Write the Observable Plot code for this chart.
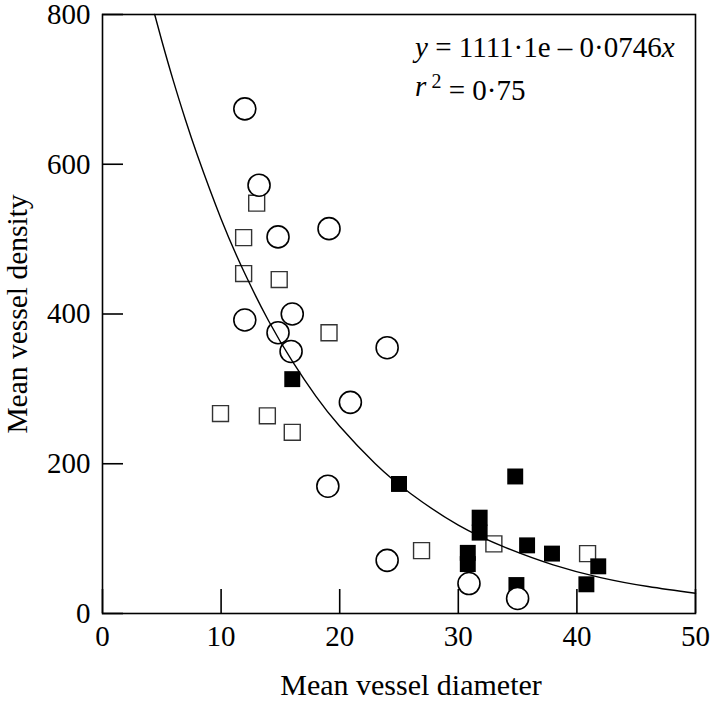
<!DOCTYPE html>
<html><head><meta charset="utf-8">
<script src="https://cdn.jsdelivr.net/npm/d3@7"></script>
<script src="https://cdn.jsdelivr.net/npm/@observablehq/plot@0.6"></script>
<style>body{margin:0;background:#fff}</style>
</head><body><div id="chart"></div>
<script>
// Open circles
const circlesX = [12, 13.2, 14.8, 19.1, 12, 16, 14.8, 15.9, 20.9, 24, 19, 24, 30.9, 35];
const circlesY = [674, 572, 503, 514, 392, 400, 375, 350, 282, 355, 170, 71, 40, 20];
// Open squares
const openSqX = [13, 11.9, 11.9, 14.9, 19.1, 9.95, 13.9, 16, 26.9, 33, 40.9];
const openSqY = [548, 502, 454, 446, 375, 267, 264, 242, 84, 93, 80];
// Filled squares
const filledSqX = [16, 25, 34.8, 31.8, 31.8, 30.8, 30.8, 35.8, 37.9, 41.8, 40.8, 34.9];
const filledSqY = [313, 173, 183, 128, 108, 81, 66, 91, 80, 63, 39, 38];
// Fitted curve
const fitX = [4.4, 5, 6, 7, 8, 10, 12, 14, 16, 18, 20, 23, 26, 30, 34, 38, 42, 46, 50];
const fitY = [800, 765, 710, 659, 612, 527, 454, 391, 337, 290, 250, 200, 160, 118, 88, 65, 48, 36, 27];
// Axes
const xTicks = [0, 10, 20, 30, 40, 50];
const yTicks = [0, 200, 400, 600, 800];
const xTitle = "Mean vessel diameter";
const yTitle = "Mean vessel density";
// Annotation
const eqAnchorX = 26.4;
const eqLine1Y = 742;
const eqLine2Y = 690;

const circles = circlesX.map((x, i) => ({x, y: circlesY[i]}));
const openSq = openSqX.map((x, i) => ({x, y: openSqY[i]}));
const filledSq = filledSqX.map((x, i) => ({x, y: filledSqY[i]}));
const fit = fitX.map((x, i) => ({x, y: fitY[i]}));

const W = 720, H = 702, mL = 102, mR = 25, mT = 14, mB = 89;
const frameW = W - mL - mR, frameH = H - mT - mB;

const plot = Plot.plot({
  width: W, height: H,
  marginLeft: mL, marginRight: mR, marginTop: mT, marginBottom: mB,
  style: {fontFamily: "'Liberation Serif', 'Times New Roman', serif", fontSize: "29px", color: "#000", background: "#fff"},
  x: {domain: [0, 50]},
  y: {domain: [0, 800]},
  marks: [
    Plot.axisX({ticks: xTicks, tickSize: 0, tickPadding: 12, label: null}),
    Plot.axisY({ticks: yTicks, tickSize: 0, tickPadding: 12, label: null}),
    Plot.tickX(xTicks, {x: d => d, insetTop: frameH - 24, stroke: "black", strokeWidth: 1.6}),
    Plot.tickY(yTicks, {y: d => d, insetRight: frameW - 21, stroke: "black", strokeWidth: 1.6}),
    Plot.text([xTitle], {text: d => d, frameAnchor: "bottom", dx: 12, dy: 81, lineAnchor: "bottom", textAnchor: "middle", fontSize: 30}),
    Plot.text([yTitle], {text: d => d, frameAnchor: "left", dx: -76, rotate: -90, lineAnchor: "bottom", textAnchor: "middle", fontSize: 29.5}),
    Plot.dot(openSq, {x: "x", y: "y", symbol: "square", r: 9, fill: "white", stroke: "#333", strokeWidth: 1.4}),
    Plot.dot(filledSq, {x: "x", y: "y", symbol: "square", r: 9, fill: "black", stroke: "none"}),
    Plot.dot(circles, {x: "x", y: "y", r: 11, fill: "white", stroke: "black", strokeWidth: 1.6}),
    Plot.line(fit, {x: "x", y: "y", curve: "natural", stroke: "black", strokeWidth: 1.4}),
    Plot.frame({stroke: "black", strokeWidth: 1.6})
  ]
});
document.getElementById("chart").appendChild(plot);

const sx = plot.scale("x"), sy = plot.scale("y");
const svg = d3.select(plot);
const g = svg.append("g").attr("font-size", 29).attr("fill", "black").attr("text-anchor", "start");
const t1 = g.append("text").attr("x", sx.apply(eqAnchorX)).attr("y", sy.apply(eqLine1Y));
t1.append("tspan").attr("font-style", "italic").text("y");
t1.append("tspan").text(" = 1111·1e – 0·0746");
t1.append("tspan").attr("font-style", "italic").text("x");
const t2 = g.append("text").attr("x", sx.apply(eqAnchorX)).attr("y", sy.apply(eqLine2Y));
t2.append("tspan").attr("font-style", "italic").text("r");
t2.append("tspan").attr("dy", "-0.4em").attr("font-size", 20).text(" 2");
t2.append("tspan").attr("dy", "0.4em").text(" = 0·75");
</script>
</body></html>
